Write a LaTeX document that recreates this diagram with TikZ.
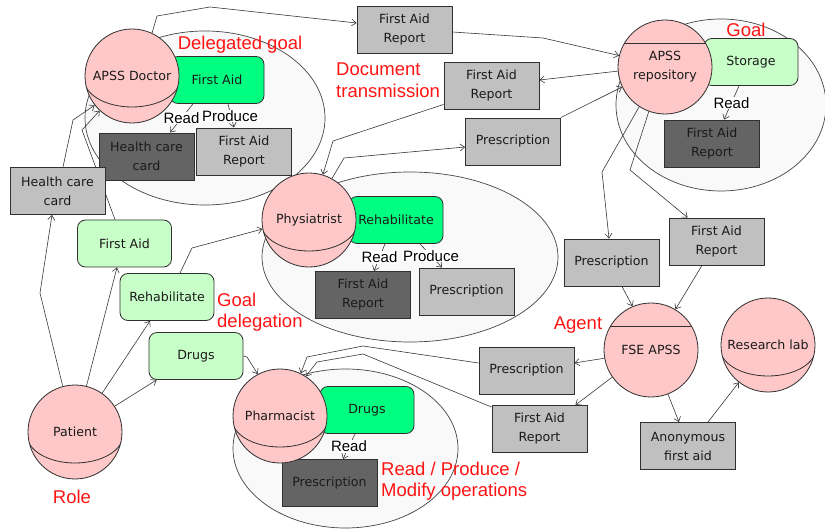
\documentclass[tikz,border=0pt]{standalone}
\usepackage{fontspec}
\setmainfont{DejaVu Sans}
\newfontfamily\arialf{Liberation Sans}
\usetikzlibrary{arrows.meta}
\definecolor{rolepink}{HTML}{FFC8C8}
\definecolor{bgreen}{HTML}{00FF80}
\definecolor{lgreen}{HTML}{C8FFC8}
\definecolor{ldocc}{HTML}{C0C0C0}
\definecolor{ddocc}{HTML}{646464}
\definecolor{contfill}{HTML}{F9F9F9}
\definecolor{edge}{HTML}{303030}
\definecolor{linec}{HTML}{383838}
\definecolor{txt}{HTML}{1A1A1A}
\definecolor{redlab}{HTML}{FF1414}
\pgfdeclarelayer{bg}
\pgfdeclarelayer{lines}
\pgfsetlayers{bg,lines,main}
\tikzset{
  every node/.style={font=\fontsize{12.6}{19}\selectfont, text=txt},
  cont/.style={draw=edge!90, fill=contfill, line width=0.7pt},
  role/.style={circle, draw=edge, fill=rolepink, line width=0.8pt, minimum size=94pt, inner sep=0pt, align=center,
    path picture={\draw[edge, line width=0.8pt] ([yshift=-3pt]path picture bounding box.center) ++(-48pt,0pt) arc[start angle=180, end angle=360, x radius=48pt, y radius=28pt];}},
  agent/.style={circle, draw=edge, fill=rolepink, line width=0.8pt, minimum size=94pt, inner sep=0pt, align=center,
    path picture={\draw[edge, line width=0.8pt] ([yshift=24pt]path picture bounding box.center) ++(-50pt,0pt) -- ++(100pt,0pt);}},
  bgoal/.style={rectangle, rounded corners=8pt, draw=edge, fill=bgreen, line width=0.8pt, minimum width=94pt, minimum height=47pt, inner sep=0pt, align=center},
  lgoal/.style={rectangle, rounded corners=8pt, draw=edge, fill=lgreen, line width=0.8pt, minimum width=94pt, minimum height=47pt, inner sep=0pt, align=center},
  ldoc/.style={rectangle, draw=edge, fill=ldocc, line width=0.9pt, minimum width=95pt, minimum height=47pt, inner sep=0pt, align=center},
  ddoc/.style={rectangle, draw=edge, fill=ddocc, line width=0.9pt, minimum width=95pt, minimum height=47pt, inner sep=0pt, align=center},
  redtext/.style={text=redlab, font=\arialf\fontsize{18.5}{21.5}\selectfont, inner sep=0pt},
  smlab/.style={fill=white, inner sep=0.6pt, font=\arialf\fontsize{15}{17}\selectfont, text=black},
  conn/.style={draw=linec, line width=0.6pt, -{Straight Barb[length=4.5pt, width=7pt]}}
}
\begin{document}
\begin{tikzpicture}[x=1pt, y=-1pt]
\useasboundingbox (0,0) rectangle (825,529);
\begin{pgfonlayer}{bg}
  \fill[white] (0,0) rectangle (825,529);
  \draw[cont] (205,118) ellipse [x radius=120, y radius=87];
  \draw[cont] (410,257) ellipse [x radius=148, y radius=85];
  \draw[cont] (721,105) ellipse [x radius=105, y radius=86];
  \draw[cont] (345.5,448.5) ellipse [x radius=112.5, y radius=79.5];
\end{pgfonlayer}

% goals
\node[bgoal] (gFA) at (217,80) {First Aid};
\node[bgoal] (gRe) at (396,220) {Rehabilitate};
\node[bgoal] (gDr) at (367,410) {Drugs};
\node[lgoal] (gSt) at (751,62) {Storage};
\node[lgoal] (lFA) at (124.5,243.5) {First Aid};
\node[lgoal] (lRe) at (167,297) {Rehabilitate};
\node[lgoal] (lDr) at (196,356) {Drugs};

% documents
\node[ldoc] (dFAR1) at (244,151.5) {First Aid\\Report};
\node[ddoc] (dHC) at (146.5,156.5) {Health care\\card};
\node[ldoc] (hcc) at (57.5,191) {Health care\\card};
\node[ldoc] (farTop) at (404.5,30) {First Aid\\Report};
\node[ldoc] (far2) at (491.5,85.5) {First Aid\\Report};
\node[ldoc] (presc1) at (513,141.5) {Prescription};
\node[ddoc] (farRepo) at (712,143.5) {First Aid\\Report};
\node[ldoc] (presc2) at (611.5,262.5) {Prescription};
\node[ldoc] (far3) at (716.5,241.5) {First Aid\\Report};
\node[ddoc] (farPhys) at (363,295) {First Aid\\Report};
\node[ldoc] (prescPhys) at (466.5,291.5) {Prescription};
\node[ldoc] (presc3) at (526.5,370.5) {Prescription};
\node[ldoc] (far4) at (539.5,429) {First Aid\\Report};
\node[ldoc] (anon) at (688,446) {Anonymous\\first aid};
\node[ddoc] (prescPharm) at (329.5,483) {Prescription};

% roles and agents
\node[role] (doc) at (132,76) {APSS Doctor};
\node[role] (phys) at (309,220) {Physiatrist};
\node[role] (pharm) at (280,416) {Pharmacist};
\node[role] (pat) at (75,432) {Patient};
\node[role] (lab) at (768,345) {Research lab};
\node[agent] (repo) at (665,67) {APSS\\repository};
\node[agent] (fse) at (651,350) {FSE APSS};

% red annotations
\node[redtext] (tDel) at (240,45) {Delegated goal};
\node[redtext, anchor=west, align=left] (tDoc) at (336,80) {Document\\transmission};
\node[redtext] (tGoal) at (746,30) {Goal};
\node[redtext, anchor=west, align=left] (tGdel) at (217,312) {Goal\\delegation};
\node[redtext] (tAgent) at (578,325) {Agent};
\node[redtext] (tRole) at (72,497) {Role};
\node[redtext, anchor=west, align=left] (tOps) at (381,481) {Read / Produce /\\Modify operations};

\begin{pgfonlayer}{lines}
\draw[conn] (pat.105) -- (40,293) -- ([xshift=-5.5pt]hcc.south);
\draw[conn] ([xshift=5.5pt]hcc.north) -- (73,120) -- (doc.218);
\draw[conn] (pat.76) -- ([xshift=-7.5pt]lFA.south);
\draw[conn] ([xshift=-9.5pt]lFA.north) -- (82,130) -- (doc.227);
\draw[conn] (pat.55) -- ([xshift=-17pt]lRe.south);
\draw[conn] ([xshift=13pt]lRe.north) -- (192,248) -- (phys.191);
\draw[conn] (pat.33) -- ([xshift=8pt]lDr.south west);
\draw[conn] (lDr.east) -- (247,357) -- (pharm.118);
\draw[conn] (doc.65) -- (157,16) -- (210,7) -- ([yshift=7pt]farTop.west);
\draw[conn] ([yshift=-2pt]farTop.east) -- (543,38) -- (repo.166);
\draw[conn] (repo.185) -- ([yshift=5.5pt]far2.east);
\draw[conn] ([yshift=5pt]far2.south west) -- (333,141) -- (phys.73);
\draw[conn] (phys.61) -- (344,158) -- ([yshift=-5.5pt]presc1.west);
\draw[conn] (presc1.north east) -- (repo.205);
\draw[conn] (repo.237) -- (602,172) -- ([xshift=-2.5pt]presc2.north);
\draw[conn] (repo.250) -- (630,170) -- ([xshift=19pt]far3.north west);
\draw[conn] ([xshift=10.5pt]presc2.south) -- (fse.113);
\draw[conn] ([xshift=-14.5pt]far3.south) -- (fse.59);
\draw[conn] (fse.190) -- ([yshift=7.5pt]presc3.east);
\draw[conn] (fse.215) -- ([xshift=-12pt]far4.north east);
\draw[conn] (fse.291) -- ([xshift=-9pt]anon.north);
\draw[conn] ([xshift=20pt]anon.north) -- (lab.232);
\draw[conn] ([yshift=7.5pt]presc3.west) -- (363,346) -- (307,357) -- (pharm.64);
\draw[conn] ([yshift=-2pt]far4.north west) -- (363,354) -- (317,362) -- (pharm.57);
% read / produce
\draw[conn] ([xshift=-24pt]gFA.south) -- node[smlab] (lr1) {Read} ([xshift=23.5pt]dHC.north);
\draw[conn] ([xshift=11pt]gFA.south) -- node[smlab, xshift=-1pt] (lp1) {Produce} ([xshift=-10pt]dFAR1.north);
\draw[conn] ([xshift=-11pt]gRe.south) -- node[smlab] (lr2) {Read} ([xshift=11pt]farPhys.north);
\draw[conn] ([xshift=24pt]gRe.south) -- node[smlab] (lp2) {Produce} ([xshift=-24.5pt]prescPhys.north);
\draw[conn] ([xshift=-12pt]gSt.south) -- node[smlab] (lr3) {Read} ([xshift=12pt]farRepo.north);
\draw[conn] ([xshift=-12pt]gDr.south) -- node[smlab] (lr4) {Read} ([xshift=13.5pt]prescPharm.north);
\end{pgfonlayer}
\end{tikzpicture}
\end{document}
